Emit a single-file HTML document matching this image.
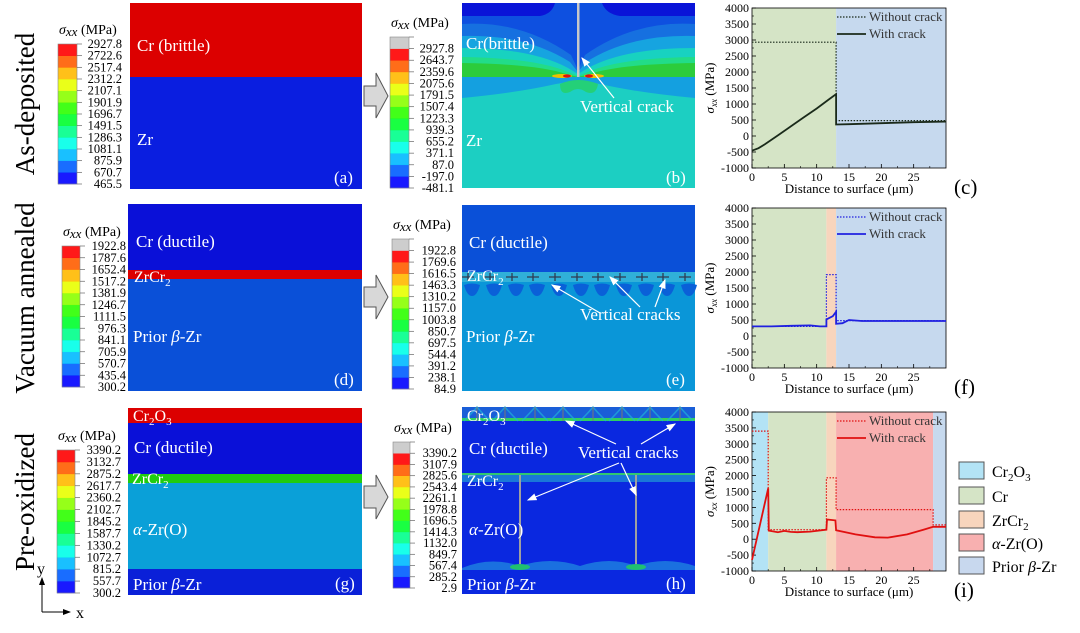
<!DOCTYPE html>
<html><head><meta charset="utf-8"><style>
body{margin:0;background:#fff;}
svg{display:block;font-family:"Liberation Serif",serif;}
</style></head><body>
<svg id="fig" width="1080" height="633" viewBox="0 0 1080 633" xmlns="http://www.w3.org/2000/svg">
<defs>
<marker id="ah" markerWidth="8" markerHeight="8" refX="7" refY="4" orient="auto"><path d="M0,1 L8,4 L0,7 Z" fill="#fff"/></marker>
<marker id="ahk" markerWidth="8" markerHeight="8" refX="7" refY="4" orient="auto"><path d="M0,1 L8,4 L0,7 Z" fill="#000"/></marker>
</defs>

<text transform="translate(34,104) rotate(-90)" text-anchor="middle" font-size="27">As-deposited</text>
<text transform="translate(34,298) rotate(-90)" text-anchor="middle" font-size="27">Vacuum annealed</text>
<text transform="translate(34,502) rotate(-90)" text-anchor="middle" font-size="27">Pre-oxidized</text>

<g stroke="#000" stroke-width="1">
<line x1="42" y1="612" x2="42" y2="578" marker-end="url(#ahk)"/>
<line x1="42" y1="612" x2="70" y2="612" marker-end="url(#ahk)"/>
</g>
<text x="37" y="574" font-size="16">y</text>
<text x="76" y="618" font-size="16">x</text>

<g>
<rect x="130" y="3" width="232" height="74" fill="#dc0000"/>
<rect x="130" y="77" width="232" height="112" fill="#0a1ee0"/>
<text x="137" y="51" fill="#fff" font-size="17">Cr (brittle)</text>
<text x="137" y="145" fill="#fff" font-size="17">Zr</text>
<text x="334" y="183" fill="#fff" font-size="17">(a)</text>
</g>

<g>
<rect x="128" y="204" width="234" height="66" fill="#0a10d8"/>
<rect x="128" y="270" width="234" height="9" fill="#dc0000"/>
<rect x="128" y="279" width="234" height="112" fill="#0a50d8"/>
<text x="136" y="247" fill="#fff" font-size="17">Cr (ductile)</text>
<text x="134" y="282" fill="#fff" font-size="16">ZrCr<tspan font-size="11" dy="4">2</tspan></text>
<text x="133" y="342" fill="#fff" font-size="17">Prior <tspan font-style="italic">β</tspan>-Zr</text>
<text x="334" y="385" fill="#fff" font-size="17">(d)</text>
</g>

<g>
<rect x="128" y="408" width="234" height="15" fill="#dc0000"/>
<rect x="128" y="423" width="234" height="51" fill="#0a10d8"/>
<rect x="128" y="474" width="234" height="9" fill="#20cc10"/>
<rect x="128" y="483" width="234" height="86" fill="#0aa0d8"/>
<rect x="128" y="569" width="234" height="26" fill="#0a20d8"/>
<text x="133" y="421" fill="#fff" font-size="16">Cr<tspan font-size="11" dy="4">2</tspan><tspan dy="-4">O</tspan><tspan font-size="11" dy="4">3</tspan></text>
<text x="134" y="453" fill="#fff" font-size="17">Cr (ductile)</text>
<text x="132" y="484" fill="#fff" font-size="16">ZrCr<tspan font-size="11" dy="4">2</tspan></text>
<text x="133" y="535" fill="#fff" font-size="17"><tspan font-style="italic">α</tspan>-Zr(O)</text>
<text x="133" y="590" fill="#fff" font-size="17">Prior <tspan font-style="italic">β</tspan>-Zr</text>
<text x="335" y="589" fill="#fff" font-size="17">(g)</text>
</g>

<g fill="#d8d8d8" stroke="#555" stroke-width="1">
<path d="M364,86 H376 V73 L388,96 L376,118 V106 H364 Z"/>
<path d="M364,287 H376 V275 L388,297 L376,319 V307 H364 Z"/>
<path d="M364,486 H376 V475 L388,497 L376,519 V508 H364 Z"/>
</g>

<g>
<rect x="462" y="3" width="233" height="185" fill="#1ccfc2"/>
<path d="M462,77 H695 V98 Q640,93 600,84 Q578,80 556,84 Q516,93 462,98 Z" fill="#14a0e0"/>
<path d="M462,3 H695 V77 H462 Z" fill="#2ccc3c"/>
<path d="M462,3 H695 V63 Q620,64 590,74 L578,77 L566,74 Q536,64 462,63 Z" fill="#22dc88"/>
<path d="M462,3 H695 V57 Q620,58 588,72 L578,76 L568,72 Q536,58 462,57 Z" fill="#18d2c0"/>
<path d="M462,3 H695 V48 Q625,48 588,68 L578,74 L568,68 Q531,48 462,48 Z" fill="#16a4e0"/>
<path d="M462,3 H695 V36 Q630,34 586,62 L578,72 L570,62 Q526,34 462,36 Z" fill="#1670e0"/>
<path d="M462,3 H695 V24 Q635,20 585,55 L578,70 L571,55 Q521,20 462,24 Z" fill="#0e50e0"/>
<path d="M462,3 H555 Q552,14 540,16 H462 Z" fill="#0a14d8"/>
<path d="M602,3 H695 V16 H620 Q606,14 602,3 Z" fill="#0a14d8"/>
<ellipse cx="562" cy="76" rx="10" ry="2" fill="#f0c000"/>
<ellipse cx="594" cy="76" rx="10" ry="2" fill="#f0c000"/>
<ellipse cx="567" cy="76" rx="4" ry="1.6" fill="#e01010"/>
<ellipse cx="589" cy="76" rx="4" ry="1.6" fill="#e01010"/>
<path d="M560,84 Q578,76 598,84 Q596,96 586,92 Q578,86 570,92 Q560,96 560,84 Z" fill="#24d078"/>
<rect x="577" y="3" width="2.5" height="74" fill="#c8c8c8"/>
<text x="466" y="49" fill="#fff" font-size="17">Cr(brittle)</text>
<text x="466" y="146" fill="#fff" font-size="17">Zr</text>
<line x1="614" y1="98" x2="582" y2="58" stroke="#fff" stroke-width="1.2" marker-end="url(#ah)"/>
<text x="580" y="112" fill="#fff" font-size="17">Vertical crack</text>
<text x="666" y="183" fill="#fff" font-size="17">(b)</text>
</g>

<g>
<rect x="462" y="205" width="233" height="67" fill="#0a50d8"/>
<rect x="462" y="272" width="233" height="119" fill="#0a96d8"/>
<rect x="462" y="272" width="233" height="10" fill="#30b0d8"/>
<g id="eMarks"></g>
<text x="469" y="248" fill="#fff" font-size="17">Cr (ductile)</text>
<text x="467" y="281" fill="#fff" font-size="16">ZrCr<tspan font-size="11" dy="4">2</tspan></text>
<text x="466" y="342" fill="#fff" font-size="17">Prior <tspan font-style="italic">β</tspan>-Zr</text>
<line x1="600" y1="313" x2="552" y2="285" stroke="#fff" stroke-width="1.2" marker-end="url(#ah)"/>
<line x1="640" y1="307" x2="610" y2="277" stroke="#fff" stroke-width="1.2" marker-end="url(#ah)"/>
<line x1="655" y1="307" x2="665" y2="280" stroke="#fff" stroke-width="1.2" marker-end="url(#ah)"/>
<text x="580" y="320" fill="#fff" font-size="17">Vertical cracks</text>
<text x="666" y="385" fill="#fff" font-size="17">(e)</text>
</g>

<g>
<rect x="462" y="407" width="233" height="187" fill="#0a28e0"/>
<rect x="462" y="407" width="233" height="14" fill="#1a5ed8"/>
<rect x="462" y="418" width="233" height="3" fill="#30d060"/>
<g id="hMarks"></g>
<rect x="462" y="473" width="233" height="9" fill="#1a78d8"/>
<rect x="462" y="473" width="233" height="2" fill="#30c870"/>
<path d="M462,568 Q490,556 520,566 Q550,556 580,566 Q610,556 636,566 Q665,556 695,566 V570 H462 Z" fill="#1a70e0"/>
<rect x="519" y="475" width="2" height="93" fill="#a0a0a0"/>
<rect x="635" y="475" width="2" height="93" fill="#a0a0a0"/>
<ellipse cx="520" cy="567" rx="10" ry="3" fill="#20c070"/>
<ellipse cx="636" cy="567" rx="10" ry="3" fill="#20c070"/>
<text x="467" y="421" fill="#fff" font-size="16">Cr<tspan font-size="11" dy="4">2</tspan><tspan dy="-4">O</tspan><tspan font-size="11" dy="4">3</tspan></text>
<text x="469" y="454" fill="#fff" font-size="17">Cr (ductile)</text>
<text x="467" y="486" fill="#fff" font-size="16">ZrCr<tspan font-size="11" dy="4">2</tspan></text>
<text x="469" y="535" fill="#fff" font-size="17"><tspan font-style="italic">α</tspan>-Zr(O)</text>
<text x="467" y="590" fill="#fff" font-size="17">Prior <tspan font-style="italic">β</tspan>-Zr</text>
<text x="578" y="458" fill="#fff" font-size="17">Vertical cracks</text>
<line x1="616" y1="444" x2="566" y2="421" stroke="#fff" stroke-width="1.2" marker-end="url(#ah)"/>
<line x1="641" y1="444" x2="675" y2="424" stroke="#fff" stroke-width="1.2" marker-end="url(#ah)"/>
<line x1="619" y1="463" x2="528" y2="500" stroke="#fff" stroke-width="1.2" marker-end="url(#ah)"/>
<line x1="621" y1="463" x2="636" y2="495" stroke="#fff" stroke-width="1.2" marker-end="url(#ah)"/>
<text x="666" y="589" fill="#fff" font-size="17">(h)</text>
</g>

<g id="colorbars"></g>
<g id="charts"></g>

<g font-size="16">
<rect x="959" y="462" width="25" height="17" fill="#b3e3f5" stroke="#555"/>
<text x="992" y="477">Cr<tspan font-size="11" dy="4">2</tspan><tspan dy="-4">O</tspan><tspan font-size="11" dy="4">3</tspan></text>
<rect x="959" y="487" width="25" height="17" fill="#d5e4c6" stroke="#555"/>
<text x="992" y="502">Cr</text>
<rect x="959" y="511" width="25" height="17" fill="#f8d5bd" stroke="#555"/>
<text x="992" y="526">ZrCr<tspan font-size="11" dy="4">2</tspan></text>
<rect x="959" y="534" width="25" height="17" fill="#f8b0b0" stroke="#555"/>
<text x="992" y="549"><tspan font-style="italic">α</tspan>-Zr(O)</text>
<rect x="959" y="557" width="25" height="17" fill="#c8d8ee" stroke="#555"/>
<text x="992" y="572">Prior <tspan font-style="italic">β</tspan>-Zr</text>
</g>
</svg>
<script>
const NS="http://www.w3.org/2000/svg";
function mk(tag,attrs,parent){const e=document.createElementNS(NS,tag);for(const k in attrs)e.setAttribute(k,attrs[k]);parent.appendChild(e);return e;}

const eCrackX=[468,490,512,533,555,577,598,620,642,663,685];
const eMarksG=document.getElementById('eMarks');
eCrackX.forEach(x=>{
  const c=mk('path',{d:`M${x-4},285 Q${x+4},282 ${x+12},285 Q${x+9},296 ${x+4},296 Q${x-1},296 ${x-4},285 Z`,fill:'#0a60d8'},eMarksG);
  
  
  const m=mk('path',{d:`M${x-6},277 H${x+6} M${x},273 V281`,stroke:'#303a50','stroke-width':1.3},eMarksG);
  
  
});
const hCrackX=[477,505,535,563,593,622,650,680];
const hMarksG=document.getElementById('hMarks');
hCrackX.forEach(x=>{
  const p=mk('path',{d:`M${x-13},421 Q${x-4},412 ${x},407 Q${x+4},412 ${x+13},421`,stroke:'#20b0d8','stroke-width':1.5,fill:'none',opacity:0.7},hMarksG);
  
  
  const l=mk('line',{x1:x,y1:407,x2:x,y2:421,stroke:'#777','stroke-width':1},hMarksG);
  
  
});

const cmap=['#0000ff','#005dff','#00b9ff','#00ffe8','#00ff8b','#00ff2e','#2eff00','#8bff00','#e8ff00','#ffb900','#ff5d00','#ff0000'];
const cbA=['465.5','670.7','875.9','1081.1','1286.3','1491.5','1696.7','1901.9','2107.1','2312.2','2517.4','2722.6','2927.8'];
const cbB=['-481.1','-197.0','87.0','371.1','655.2','939.3','1223.3','1507.4','1791.5','2075.6','2359.6','2643.7','2927.8'];
const cbD=['300.2','435.4','570.7','705.9','841.1','976.3','1111.5','1246.7','1381.9','1517.2','1652.4','1787.6','1922.8'];
const cbE=['84.9','238.1','391.2','544.4','697.5','850.7','1003.8','1157.0','1310.2','1463.3','1616.5','1769.6','1922.8'];
const cbG=['300.2','557.7','815.2','1072.7','1330.2','1587.7','1845.2','2102.7','2360.2','2617.7','2875.2','3132.7','3390.2'];
const cbH=['2.9','285.2','567.4','849.7','1132.0','1414.3','1696.5','1978.8','2261.1','2543.4','2825.6','3107.9','3390.2'];
const CB=document.getElementById('colorbars');
function colorbar(name,x,y,w,h,labels,gray){
  const g=mk('g',{},CB);
  
  
  const nb=cmap.length+(gray?1:0);
  const bh=h/nb;
  for(let i=0;i<nb;i++){
    const col=i<cmap.length?cmap[i]:'#c8c8c8';
    mk('rect',{x:x,y:y+h-(i+1)*bh,width:w,height:bh+0.3,fill:col,opacity:0.9},g);
  }
  mk('rect',{x:x,y:y,width:w,height:h,fill:'none',stroke:'#888','stroke-width':0.6},g);
  const nl=labels.length;
  for(let i=0;i<nl;i++){
    const yy=y+h-i*bh;
    mk('line',{x1:x+w,y1:yy,x2:x+w+5,y2:yy,stroke:'#666','stroke-width':0.7},g);
    const t=mk('text',{x:x+64,y:yy+4,'text-anchor':'end','font-size':12.5},g);
    t.textContent=labels[i];
  }
  if(gray){mk('line',{x1:x+w,y1:y,x2:x+w+5,y2:y,stroke:'#666','stroke-width':0.7},g);}
  const tt=mk('text',{x:x+1,y:y-10,'font-size':14},g);
  tt.innerHTML='<tspan font-style="italic">σ</tspan><tspan font-style="italic" font-size="13" dy="2">xx</tspan><tspan dy="-2">  (MPa)</tspan>';
}
colorbar('colorbar-a',58,44,19,140,cbA,false);
colorbar('colorbar-b',390,37,19,151,cbB,true);
colorbar('colorbar-d',62,246,18,141,cbD,false);
colorbar('colorbar-e',392,239,17,150,cbE,true);
colorbar('colorbar-g',57,450,18,143,cbG,false);
colorbar('colorbar-h',393,442,17,146,cbH,true);

const yTicks=[-1000,-500,0,500,1000,1500,2000,2500,3000,3500,4000];
const xTicks=[0,5,10,15,20,25];
const cRegionEdges=[0,13,30];
const cRegionColors=['#d5e4c6','#c6d9ee'];
const cNoCrackX=[0,13,13,30];
const cNoCrackY=[2930,2930,480,480];
const cCrackX=[0,1,2,4,6,8,10,12,13,13,15,20,25,30];
const cCrackY=[-460,-380,-260,20,300,580,860,1160,1310,360,370,400,430,450];
const fRegionEdges=[0,11.5,13,30];
const fRegionColors=['#d5e4c6','#f8d5bd','#c6d9ee'];
const fNoCrackX=[0,11.5,11.5,13,13,30];
const fNoCrackY=[300,300,1920,1920,480,480];
const fCrackX=[0,3,6,9,10.5,11.5,11.5,12.5,13,13,14,15,17,20,30];
const fCrackY=[300,300,320,330,300,300,520,620,760,380,400,500,470,470,470];
const iRegionEdges=[0,2.5,11.5,13,28,30];
const iRegionColors=['#b3e3f5','#d5e4c6','#f8d5bd','#f8b0b0','#c6d9ee'];
const iNoCrackX=[0,2.5,2.5,11.5,11.5,13,13,28,28,30];
const iNoCrackY=[3400,3400,300,300,1930,1930,930,930,450,450];
const iCrackX=[0,2.5,2.6,4,5,6,7,9,11.5,11.6,12.9,13,16,19,21,24,26.5,28,30];
const iCrackY=[-650,1600,270,220,260,230,220,240,300,620,590,280,150,60,50,150,300,390,390];

const CH=document.getElementById('charts');
function chart(o){
  const g=mk('g',{},CH);
  
  
  const L=752,R=946,T=o.top,B=o.bottom;
  const sx=v=>L+(v-0)/(30-0)*(R-L);
  const sy=v=>B-(v+1000)/5000*(B-T);
  for(let i=0;i<o.edges.length-1;i++){
    const r=mk('rect',{x:sx(o.edges[i]),y:T,width:sx(o.edges[i+1])-sx(o.edges[i]),height:B-T,fill:o.colors[i]},g);
    
    
  }
  yTicks.forEach(v=>{
    mk('line',{x1:L,y1:sy(v),x2:L+4,y2:sy(v),stroke:'#000','stroke-width':0.8},g);
    if(v<4000)mk('line',{x1:L,y1:sy(v+250),x2:L+2,y2:sy(v+250),stroke:'#000','stroke-width':0.6},g);
    const t=mk('text',{x:L-3,y:sy(v)+4,'text-anchor':'end','font-size':12},g);
    t.textContent=v;
  });
  xTicks.forEach(v=>{
    mk('line',{x1:sx(v),y1:B,x2:sx(v),y2:B-4,stroke:'#000','stroke-width':0.8},g);
    mk('line',{x1:sx(v+2.5),y1:B,x2:sx(v+2.5),y2:B-2,stroke:'#000','stroke-width':0.6},g);
    const t=mk('text',{x:sx(v),y:B+13,'text-anchor':'middle','font-size':12},g);
    t.textContent=v;
  });
  mk('rect',{x:L,y:T,width:R-L,height:B-T,fill:'none',stroke:'#000','stroke-width':0.8},g);
  const pts=(xs,ys)=>xs.map((x,i)=>sx(x).toFixed(1)+','+sy(ys[i]).toFixed(1)).join(' ');
  const l1=mk('polyline',{points:pts(o.nx,o.ny),fill:'none',stroke:o.col,'stroke-width':1.2,'stroke-dasharray':'1.5,1.5'},g);
  
  
  const l2=mk('polyline',{points:pts(o.cx,o.cy),fill:'none',stroke:o.col,'stroke-width':1.8},g);
  
  
  const lg=mk('g',{},g);
  
  
  mk('line',{x1:837,y1:T+9,x2:866,y2:T+9,stroke:o.col,'stroke-width':1.2,'stroke-dasharray':'1.5,1.5'},lg);
  mk('line',{x1:837,y1:T+26,x2:866,y2:T+26,stroke:o.col,'stroke-width':1.8},lg);
  const a=mk('text',{x:869,y:T+13,'font-size':13,fill:'#333'},lg);a.textContent='Without crack';
  const b=mk('text',{x:869,y:T+30,'font-size':13,fill:'#333'},lg);b.textContent='With crack';
  const xt=mk('text',{x:(L+R)/2,y:B+25,'text-anchor':'middle','font-size':13},g);
  
  
  xt.textContent='Distance to surface (μm)';
  const yt=mk('text',{transform:`translate(${L-38},${(T+B)/2}) rotate(-90)`,'text-anchor':'middle','font-size':13},g);
  
  
  yt.innerHTML='<tspan font-style="italic">σ</tspan><tspan font-style="italic" font-size="9" dy="3">xx</tspan><tspan dy="-3"> (MPa)</tspan>';
  const pl=mk('text',{x:954,y:B+26,'font-size':21},g);
  
  
  pl.textContent=o.label;
}
chart({name:'chart-c',top:8,bottom:168,edges:cRegionEdges,colors:cRegionColors,nx:cNoCrackX,ny:cNoCrackY,cx:cCrackX,cy:cCrackY,col:'#1a2a1a',label:'(c)'});
chart({name:'chart-f',top:208,bottom:368,edges:fRegionEdges,colors:fRegionColors,nx:fNoCrackX,ny:fNoCrackY,cx:fCrackX,cy:fCrackY,col:'#2020e0',label:'(f)'});
chart({name:'chart-i',top:412,bottom:571,edges:iRegionEdges,colors:iRegionColors,nx:iNoCrackX,ny:iNoCrackY,cx:iCrackX,cy:iCrackY,col:'#e01010',label:'(i)'});
</script>
</body></html>
